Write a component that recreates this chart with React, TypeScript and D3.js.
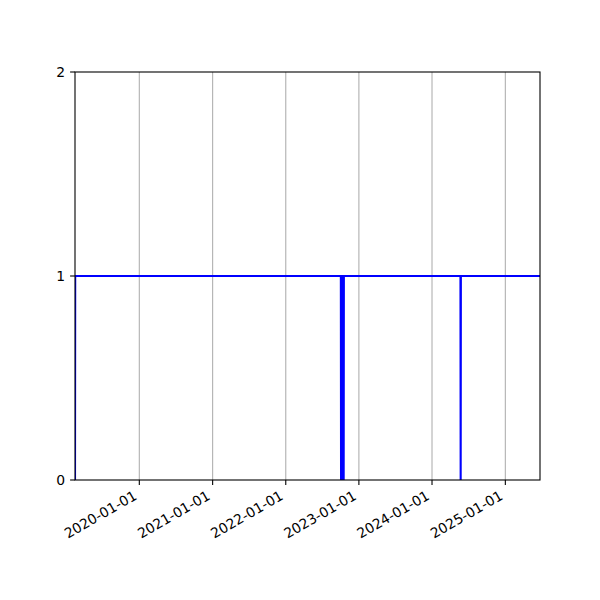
import { useMemo } from "react";
import * as d3 from "d3";

// Status series: 1 most of the time, drops to 0 on a few days
const dates = [
  "2019-02-14",
  "2019-02-15",
  "2022-10-03",
  "2022-10-04",
  "2022-10-05",
  "2022-10-06",
  "2022-10-07",
  "2022-10-08",
  "2022-10-09",
  "2022-10-10",
  "2022-10-11",
  "2022-10-12",
  "2022-10-13",
  "2022-10-14",
  "2022-10-15",
  "2022-10-16",
  "2022-10-17",
  "2022-10-18",
  "2024-05-22",
  "2024-05-23",
  "2024-05-24",
  "2025-06-23",
];
const values = [0, 1, 1, 0, 1, 0, 1, 0, 1, 0, 1, 0, 1, 0, 1, 0, 0, 1, 1, 0, 1, 1];

const xTickLabels = [
  "2020-01-01",
  "2021-01-01",
  "2022-01-01",
  "2023-01-01",
  "2024-01-01",
  "2025-01-01",
];
const yTicks = [0, 1, 2];

const width = 600;
const height = 600;
const margin = { top: 72, right: 60, bottom: 120, left: 75 };

const parse = d3.utcParse("%Y-%m-%d");

const App = () => {
  const points = useMemo(
    () => dates.map((d, i) => ({ date: parse(d) as Date, value: values[i] })),
    [],
  );

  const x = d3
    .scaleUtc()
    .domain(d3.extent(points, (d) => d.date) as [Date, Date])
    .range([margin.left, width - margin.right]);

  const y = d3
    .scaleLinear()
    .domain([0, 2])
    .range([height - margin.bottom, margin.top]);

  const line = d3
    .line<{ date: Date; value: number }>()
    .x((d) => x(d.date))
    .y((d) => y(d.value));

  const x0 = margin.left;
  const x1 = width - margin.right;
  const y0 = height - margin.bottom;
  const y1 = margin.top;
  const font = "DejaVu Sans, sans-serif";

  return (
    <div style={{ position: "absolute", left: 0, top: 0 }}>
      <svg width={width} height={height} style={{ display: "block" }}>
        <rect width={width} height={height} fill="#fff" />
        <defs>
          <clipPath id="plot">
            <rect x={x0} y={y1} width={x1 - x0} height={y0 - y1} />
          </clipPath>
        </defs>

        {xTickLabels.map((t) => {
          const px = x(parse(t) as Date);
          return (
            <line
              key={"g" + t}
              x1={px}
              x2={px}
              y1={y1}
              y2={y0}
              stroke="#b0b0b0"
              strokeWidth={1.1}
            />
          );
        })}

        <path
          d={line(points) ?? ""}
          fill="none"
          stroke="#0000ff"
          strokeWidth={2.1}
          strokeLinejoin="round"
          clipPath="url(#plot)"
        />

        <rect
          x={x0}
          y={y1}
          width={x1 - x0}
          height={y0 - y1}
          fill="none"
          stroke="#000"
          strokeWidth={1.1}
        />

        {xTickLabels.map((t) => {
          const px = x(parse(t) as Date);
          return (
            <g key={"t" + t}>
              <line
                x1={px}
                x2={px}
                y1={y0}
                y2={y0 + 4.9}
                stroke="#000"
                strokeWidth={1.1}
              />
              <text
                transform={`translate(${px - 1.5},${y0 + 18.5}) rotate(-30)`}
                textAnchor="end"
                fontFamily={font}
                fontSize={13.9}
                fill="#000"
              >
                {t}
              </text>
            </g>
          );
        })}

        {yTicks.map((t) => (
          <g key={"y" + t}>
            <line
              x1={x0 - 4.9}
              x2={x0}
              y1={y(t)}
              y2={y(t)}
              stroke="#000"
              strokeWidth={1.1}
            />
            <text
              x={x0 - 9.8}
              y={y(t)}
              dy="0.36em"
              textAnchor="end"
              fontFamily={font}
              fontSize={13.9}
              fill="#000"
            >
              {t}
            </text>
          </g>
        ))}
      </svg>
    </div>
  );
};

export default App;
